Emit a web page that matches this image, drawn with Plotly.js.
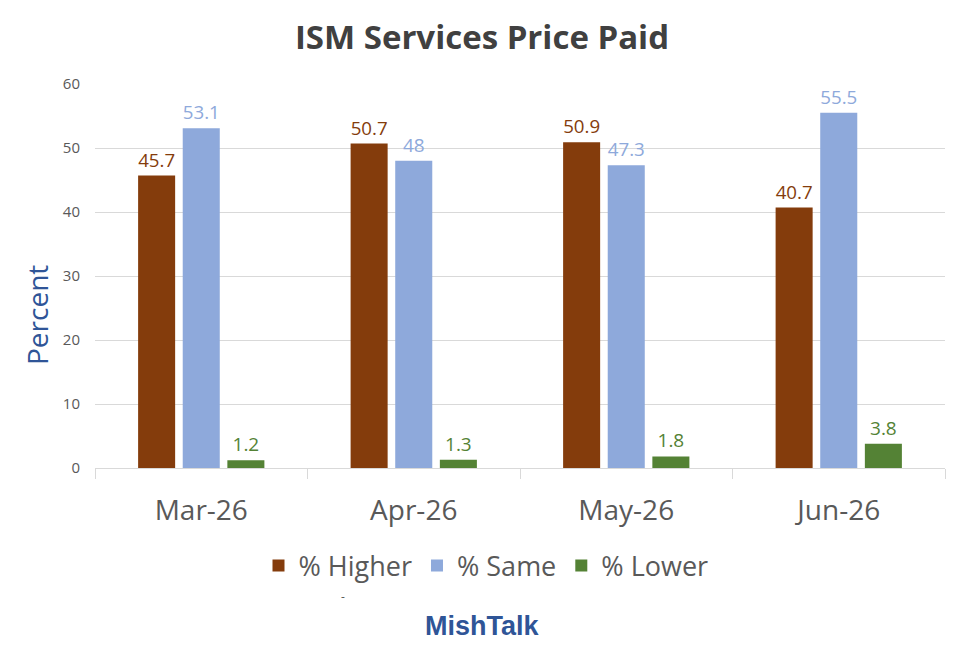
<!DOCTYPE html>
<html>
<head>
<meta charset="utf-8">
<script src="https://cdn.plot.ly/plotly-3.0.1.min.js"></script>
<style>
  html, body { margin: 0; padding: 0; background: #ffffff; }
  #plot { width: 964px; height: 660px; }
</style>
</head>
<body>
<div id="plot"></div>
<script>
// Months on the x axis
const months = ['Mar-26', 'Apr-26', 'May-26', 'Jun-26'];

// Share of respondents reporting higher / same / lower prices
const higher = [45.7, 50.7, 50.9, 40.7];
const same = [53.1, 48, 47.3, 55.5];
const lower = [1.2, 1.3, 1.8, 3.8];

const seriesNames = ['% Higher', '% Same', '% Lower'];
const seriesColors = ['#843C0C', '#8EA9DB', '#548235'];

function barTrace(values, i) {
  return {
    type: 'bar',
    name: seriesNames[i],
    x: months,
    y: values,
    marker: { color: seriesColors[i] },
    text: values.map(v => String(v)),
    textposition: 'outside',
    cliponaxis: false,
    textfont: { family: 'Open Sans, sans-serif', size: 19, color: seriesColors[i] },
    hoverinfo: 'skip',
  };
}

const data = [higher, same, lower].map(barTrace);

// plot area in pixels: x 95..945, y 84..468
const plotTop = 84, plotBottom = 468;
const paperY = py => (plotBottom - py) / (plotBottom - plotTop);
const paperX = px => (px - 95) / 850;

const layout = {
  width: 964,
  height: 660,
  margin: { l: 95, r: 19, t: plotTop, b: 660 - plotBottom },
  paper_bgcolor: '#ffffff',
  plot_bgcolor: '#ffffff',
  barmode: 'group',
  bargap: 0.37,
  bargroupgap: 0.17,
  font: { family: 'Open Sans, sans-serif', color: '#595959' },
  title: {
    text: '<b>ISM Services Price Paid</b>',
    font: { family: 'Open Sans, sans-serif', size: 33, color: '#404040' },
    x: 0.5,
    xanchor: 'center',
    y: 1 - 37 / 660,
    yanchor: 'middle',
  },
  xaxis: {
    type: 'category',
    tickfont: { size: 28, color: '#595959' },
    showline: true,
    linecolor: '#d9d9d9',
    linewidth: 1,
    ticks: 'outside',
    tickson: 'boundaries',
    ticklen: 10,
    tickcolor: '#d9d9d9',
    ticklabelstandoff: 17,
    showgrid: false,
    zeroline: false,
  },
  yaxis: {
    range: [0, 60],
    dtick: 10,
    tickfont: { size: 15, color: '#595959' },
    showgrid: true,
    gridcolor: '#d9d9d9',
    gridwidth: 1,
    zeroline: false,
    showline: false,
    ticks: '',
    ticklabelstandoff: 14,
  },
  legend: {
    orientation: 'h',
    x: paperX(486),
    xanchor: 'center',
    y: paperY(566),
    yanchor: 'middle',
    font: { size: 27, color: '#595959' },
    itemwidth: 30,
    traceorder: 'normal',
  },
  annotations: [
    {
      text: 'Percent',
      textangle: -90,
      xref: 'paper', yref: 'paper',
      x: paperX(37), y: paperY(315),
      xanchor: 'center', yanchor: 'middle',
      showarrow: false,
      font: { size: 28, color: '#2F5597' },
    },
    {
      text: '<b>MishTalk</b>',
      xref: 'paper', yref: 'paper',
      x: paperX(482), y: paperY(626),
      xanchor: 'center', yanchor: 'middle',
      showarrow: false,
      font: { family: 'Liberation Sans, Arial, sans-serif', size: 27, color: '#2F5597' },
    },
    {
      text: '-',
      xref: 'paper', yref: 'paper',
      x: paperX(343), y: paperY(596),
      xanchor: 'center', yanchor: 'middle',
      showarrow: false,
      font: { size: 12, color: '#595959' },
    },
  ],
};

Plotly.newPlot('plot', data, layout, { displayModeBar: false, responsive: false });
</script>
</body>
</html>
